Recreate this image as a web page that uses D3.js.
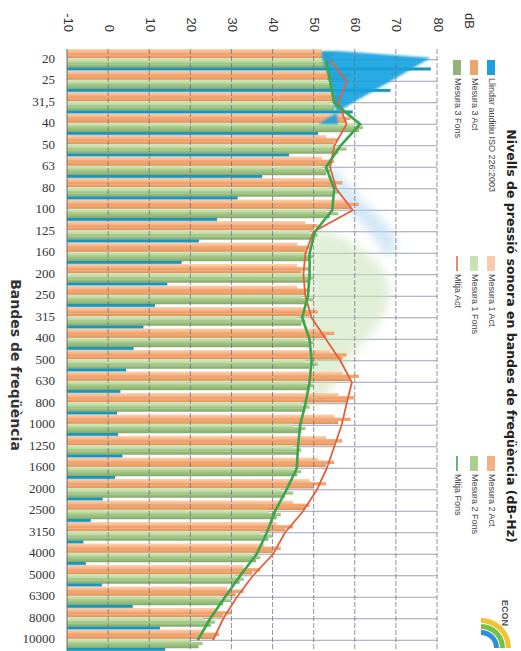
<!DOCTYPE html>
<html>
<head>
<meta charset="utf-8">
<script src="https://cdn.jsdelivr.net/npm/d3@7"></script>
<style>
body { margin: 0; background: #fff; }
</style>
</head>
<body>
<div id="viz"></div>
<script>
// frequency bands (Hz)
var categories = ["20","25","31,5","40","50","63","80","100","125","160","200","250","315","400","500","630","800","1000","1250","1600","2000","2500","3150","4000","5000","6300","8000","10000"];

// dB values per band
var llindar     = [78.5,68.7,59.5,51.1,44.0,37.5,31.5,26.5,22.1,17.9,14.4,11.4,8.6,6.2,4.4,3.0,2.2,2.4,3.5,1.7,-1.3,-4.2,-6.0,-5.4,-1.5,6.0,12.6,13.9];
var mesura1Act  = [52,56,55,57,53,52,54,58,48,46,46,46,48,51,54,57,56,55,53,51,49,45,41,38,33,29,26,23];
var mesura2Act  = [55,59,57,59,56,55,57,61,51,49,49,49,51,55,58,61,60,59,57,55,53,49,45,42,37,33,30,27];
var mesura3Act  = [54,58,56,58,55,54,55,59,50,48,47,48,49,53,57,59,58,56,55,53,50,48,43,40,35,31,28,26];
var mesura1Fons = [52,53,54,60,55,52,54,53,49,48,48,47,46,48,48,48,47,45,45,45,42,39,37,35,31,27,23,20];
var mesura2Fons = [54,55,56,62,58,54,56,56,51,50,50,50,48,50,51,50,49,48,47,47,45,42,40,37,33,30,26,23];
var mesura3Fons = [53,54,55,61,56,53,55,54,50,49,49,48,47,49,49,49,48,47,46,46,43,41,39,36,32,28,25,22];
var mitjaAct    = [54,58,56,58,55,54,55.5,59.5,50,48,47.5,48,49.5,53,56.5,59.3,58,56.8,55,53.2,50.8,47.4,43,40.1,35.2,31.3,28,25.5];
var mitjaFons   = [53,54,55,61.3,56.5,53,55,54.5,50.3,49,49,48.6,47.2,49,49.5,49,48,46.7,46.2,45.9,43.4,40.6,38.6,36.1,32.1,28.4,24.8,21.8];

var dbTicks = [-10,0,10,20,30,40,50,60,70,80];

// faded shapes seen behind the grid
var ghostGreenCats = ["125","160","200","250","315","400","500","630","800"];
var ghostGreenLow  = [50,49,49,48.6,47.2,49,49.5,49,48];
var ghostGreenHigh = [54,64,68,69,67,63,58,56,51];
var ghostBlueCats  = ["63","80","100","125","160"];
var ghostBlueLow   = [53,55,58,64,67];
var ghostBlueHigh  = [55,59,64,70,70];

// threshold wedge over the first bands
var wedgeCats = ["20","25","31,5","40"];
var wedgeBase = [52,54,55,56];

var seriesNames = ["Mesura 1 Act","Mesura 2 Act","Mesura 3 Act","Mesura 1 Fons","Mesura 2 Fons","Mesura 3 Fons","Llindar auditiu ISO 226:2003"];
var seriesValues = [mesura1Act, mesura2Act, mesura3Act, mesura1Fons, mesura2Fons, mesura3Fons, llindar];
var seriesColors = [["#fcd3b4","#f6b386"],["#f6b080","#ec9a60"],["#f3a873","#df9058"],
                    ["#d5e8c2","#bddaa3"],["#b3d596","#98bd78"],["#9fc283","#84a86a"],
                    ["#1f96b8","#8fcbe8"]];

var width = 521,
    height = 651;

// the chart is laid out as a normal column chart in a 651 x 521 frame
// and then turned a quarter turn clockwise, like the picture
var svg = d3.select("#viz").append("svg")
    .attr("width", width)
    .attr("height", height)
    .style("font-family", "Liberation Sans, Arial, sans-serif");

var defs = svg.append("defs");
defs.append("filter").attr("id", "soft")
    .append("feGaussianBlur").attr("stdDeviation", 0.6);
defs.append("filter").attr("id", "wedge")
    .append("feGaussianBlur").attr("stdDeviation", 1.2);
defs.append("filter").attr("id", "ghost").attr("x", "-50%").attr("y", "-50%").attr("width", "200%").attr("height", "200%")
    .append("feGaussianBlur").attr("stdDeviation", 5);

seriesColors.forEach(function(c, i) {
    var lg = defs.append("linearGradient").attr("id", "grad" + i)
        .attr("x1", 0).attr("x2", 1).attr("y1", 0).attr("y2", 0);
    lg.append("stop").attr("offset", "0%").attr("stop-color", c[0]);
    lg.append("stop").attr("offset", i == 6 ? "65%" : "0%").attr("stop-color", c[0]);
    lg.append("stop").attr("offset", "100%").attr("stop-color", c[1]);
});

var g = svg.append("g")
    .attr("transform", "translate(" + width + ",0) rotate(90)");

var x = d3.scaleBand().domain(categories).range([49, 651]);
var xs = d3.scaleBand().domain(d3.range(seriesNames.length)).range([0, x.bandwidth()]);
var y = d3.scaleLinear().domain([-10, 80]).range([454, 84]);
var cx = function(c) { return x(c) + x.bandwidth() / 2; };

// category grid lines
g.append("g").selectAll("line")
    .data(categories)
    .join("line")
    .attr("x1", cx).attr("x2", cx)
    .attr("y1", y(-10)).attr("y2", y(80))
    .style("stroke", "#9aa0b8")
    .style("stroke-width", 1);

// ghost shapes
var ghostArea = d3.area()
    .x(function(d) { return cx(d.c); })
    .y0(function(d) { return y(d.lo); })
    .y1(function(d) { return y(d.hi); })
    .curve(d3.curveBasis);

g.append("path")
    .datum(ghostGreenCats.map(function(c, i) { return {c: c, lo: ghostGreenLow[i], hi: ghostGreenHigh[i]}; }))
    .attr("d", ghostArea)
    .style("fill", "#c9e2b8")
    .style("opacity", 0.55)
    .attr("filter", "url(#ghost)");

g.append("path")
    .datum(ghostBlueCats.map(function(c, i) { return {c: c, lo: ghostBlueLow[i], hi: ghostBlueHigh[i]}; }))
    .attr("d", ghostArea)
    .style("fill", "#b5d6f0")
    .style("opacity", 0.6)
    .attr("filter", "url(#ghost)");

// bars
var bars = g.append("g").attr("filter", "url(#soft)");
seriesValues.forEach(function(vals, i) {
    bars.append("g").selectAll("rect")
        .data(vals)
        .join("rect")
        .attr("x", function(d, k) { return x(categories[k]) + xs(i); })
        .attr("width", xs.bandwidth() + 0.3)
        .attr("y", function(d) { return y(d); })
        .attr("height", function(d) { return y(-10) - y(d); })
        .style("fill", "url(#grad" + i + ")");
});

// threshold wedge (the low bands where the threshold rises above the measures)
var wedgeData = wedgeCats.map(function(c, i) { return {pos: cx(c), lo: wedgeBase[i], hi: llindar[categories.indexOf(c)]}; });
wedgeData.unshift({pos: x(wedgeCats[0]) + 2, lo: wedgeBase[0], hi: wedgeBase[0] + 4});
wedgeData[1].pos = cx(wedgeCats[0]) - 2;
g.append("path")
    .datum(wedgeData)
    .attr("d", d3.area()
        .x(function(d) { return d.pos; })
        .y0(function(d) { return y(d.lo); })
        .y1(function(d) { return y(d.hi); }))
    .style("fill", "#18a3e0")
    .style("opacity", 0.92)
    .attr("filter", "url(#wedge)");

// value grid lines (dashed), drawn over the bars
g.append("g").selectAll("line")
    .data(dbTicks.slice(1))
    .join("line")
    .attr("x1", 49).attr("x2", 651)
    .attr("y1", function(d) { return y(d); })
    .attr("y2", function(d) { return y(d); })
    .style("stroke", "#6f6f78")
    .style("stroke-width", 1)
    .style("stroke-dasharray", "5,2")
    .style("opacity", 0.75);

// value axis line
g.append("line")
    .attr("x1", 49).attr("x2", 651)
    .attr("y1", y(-10)).attr("y2", y(-10))
    .style("stroke", "#6a6a6a");

// mean lines
var line = d3.line()
    .x(function(d, k) { return cx(categories[k]); })
    .y(function(d) { return y(d); });

g.append("path")
    .datum(mitjaAct)
    .attr("d", line)
    .style("fill", "none")
    .style("stroke", "#e2603e")
    .style("stroke-width", 1.8);

g.append("path")
    .datum(mitjaFons)
    .attr("d", line)
    .style("fill", "none")
    .style("stroke", "#3aa64a")
    .style("stroke-width", 2.6);

// value tick labels
g.append("g").selectAll("text")
    .data(dbTicks)
    .join("text")
    .attr("x", 32)
    .attr("y", function(d) { return y(d); })
    .attr("text-anchor", "end")
    .attr("dominant-baseline", "middle")
    .style("font-size", "13px")
    .style("fill", "#333")
    .text(function(d) { return d; });

g.append("text")
    .attr("x", 13).attr("y", y(80) - 31)
    .attr("dominant-baseline", "middle")
    .style("font-size", "13px")
    .style("fill", "#333")
    .text("dB");

// category labels
g.append("g").selectAll("text")
    .data(categories)
    .join("text")
    .attr("transform", function(d) { return "translate(" + cx(d) + "," + (y(-10) + 12) + ") rotate(-90)"; })
    .attr("text-anchor", "end")
    .attr("dominant-baseline", "middle")
    .style("font-family", "Liberation Serif, serif")
    .style("font-size", "13px")
    .style("fill", "#333")
    .text(function(d) { return d; });

g.append("text")
    .attr("x", 365).attr("y", 506)
    .attr("text-anchor", "middle")
    .attr("dominant-baseline", "middle")
    .style("font-family", "DejaVu Sans, sans-serif")
    .style("font-weight", "bold")
    .style("font-size", "14px")
    .style("fill", "#333")
    .text("Bandes de freqüència");

g.append("text")
    .attr("x", 336).attr("y", 11)
    .attr("text-anchor", "middle")
    .attr("dominant-baseline", "middle")
    .style("font-family", "DejaVu Sans, sans-serif")
    .style("font-weight", "bold")
    .style("font-size", "12.5px")
    .style("fill", "#222")
    .text("Nivells de pressió sonora en bandes de freqüència  (dB-Hz)");

// legend
var legendItems = [
    {name: "Llindar auditiu ISO 226:2003", color: "#1ba1e2", type: "box"},
    {name: "Mesura 1 Act", color: "#f8cbad", type: "box"},
    {name: "Mesura 2 Act", color: "#f4b183", type: "box"},
    {name: "Mesura 3 Act", color: "#eda56c", type: "box"},
    {name: "Mesura 1 Fons", color: "#c9e2b5", type: "box"},
    {name: "Mesura 2 Fons", color: "#a9d18e", type: "box"},
    {name: "Mesura 3 Fons", color: "#93b378", type: "box"},
    {name: "Mitja Act", color: "#e2603e", type: "line"},
    {name: "Mitja Fons", color: "#2f9e50", type: "line"}
];
var legendCols = [60, 256, 456],
    legendRows = [30, 47, 64];

var legend = g.append("g").selectAll("g")
    .data(legendItems)
    .join("g")
    .attr("transform", function(d, i) {
        return "translate(" + legendCols[i % 3] + "," + legendRows[Math.floor(i / 3)] + ")";
    });

legend.filter(function(d) { return d.type == "box"; })
    .append("rect")
    .attr("x", 0).attr("y", -4)
    .attr("width", 15).attr("height", 8)
    .style("fill", function(d) { return d.color; });

legend.filter(function(d) { return d.type == "line"; })
    .append("line")
    .attr("x1", 0).attr("x2", 15)
    .attr("y1", 0).attr("y2", 0)
    .style("stroke", function(d) { return d.color; })
    .style("stroke-width", 1.5);

legend.append("text")
    .attr("x", 18).attr("y", 0)
    .attr("dominant-baseline", "middle")
    .style("font-size", "9px")
    .style("fill", "#444")
    .text(function(d) { return d.name; });

// small logo in the corner
var logo = g.append("g").attr("transform", "translate(648,40)");
var arc = d3.arc();
[["#f2c230", 30], ["#76c043", 24], ["#2e8fd8", 18]].forEach(function(a) {
    logo.append("path")
        .attr("d", arc({innerRadius: a[1] - 5, outerRadius: a[1], startAngle: -Math.PI / 2, endAngle: 0}))
        .style("fill", a[0]);
});
g.append("text")
    .attr("x", 600).attr("y", 17)
    .attr("dominant-baseline", "middle")
    .style("font-size", "9px")
    .style("font-weight", "bold")
    .style("fill", "#555")
    .text("ECON");
</script>
</body>
</html>
